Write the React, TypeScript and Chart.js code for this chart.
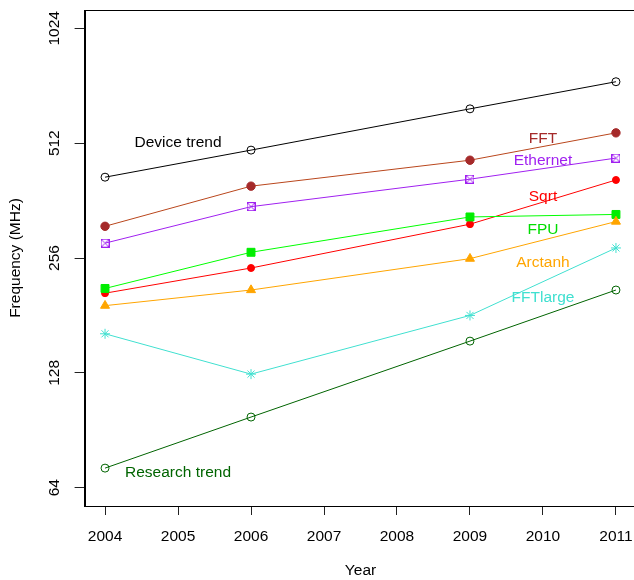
import React, { useEffect, useRef } from "react";
import { Chart, registerables } from "chart.js";

Chart.register(...registerables);

// ---- data ----
const years = [2004, 2006, 2009, 2011];
const xTicks = [2004, 2005, 2006, 2007, 2008, 2009, 2010, 2011];
const yTicks = [64, 128, 256, 512, 1024];

const deviceTrend = [417, 491, 630, 742];
const fft = [310, 395, 462, 545];
const ethernet = [280, 349, 412, 468];
const sqrt = [207, 241, 314, 410];
const fpu = [213, 265, 328, 333];
const arctanh = [192, 211, 255, 319];
const fftLarge = [162, 127, 181, 272];
const researchTrend = [72, 98, 155, 211];

const labelTexts = ["Device trend", "FFT", "Ethernet", "Sqrt", "FPU", "Arctanh", "FFTlarge", "Research trend"];
const labelX = [2005, 2010, 2010, 2010, 2010, 2010, 2010, 2005];
const labelY = [512, 527, 460, 371, 303, 249, 201, 70];

// ---- styles ----
const labelColors = ["#000000", "#A52A2A", "#A020F0", "#FF0000", "#00DD00", "#FFA500", "#40E0D0", "#006400"];
const FONT = '"Liberation Sans", Arial, Helvetica, sans-serif';
const FS = 15.5;

const xMin = 2004 - 0.04 * 7;
const xMax = 2011 + 0.04 * 7;
const yMin = 64 / Math.pow(2, 0.16);
const yMax = 1024 * Math.pow(2, 0.16);

function boxCross(color: string) {
  const c = document.createElement("canvas");
  c.width = 9;
  c.height = 9;
  const ctx = c.getContext("2d")!;
  ctx.strokeStyle = color;
  ctx.lineWidth = 1;
  ctx.strokeRect(0.5, 0.5, 8, 8);
  ctx.beginPath();
  ctx.moveTo(0.5, 0.5);
  ctx.lineTo(8.5, 8.5);
  ctx.moveTo(8.5, 0.5);
  ctx.lineTo(0.5, 8.5);
  ctx.stroke();
  return c;
}

const overlay = {
  id: "rOverlay",
  afterDatasetsDraw(chart: any) {
    const { ctx, scales } = chart;
    ctx.save();
    ctx.font = `${FS}px ${FONT}`;
    ctx.textAlign = "center";
    ctx.textBaseline = "middle";
    labelTexts.forEach((t, i) => {
      ctx.fillStyle = labelColors[i];
      ctx.fillText(t, scales.x.getPixelForValue(labelX[i]), scales.y.getPixelForValue(labelY[i]));
    });
    ctx.restore();
  },
  afterDraw(chart: any) {
    const { ctx, chartArea, scales } = chart;
    ctx.save();
    ctx.strokeStyle = "#000";
    ctx.lineWidth = 1;
    const l = Math.round(chartArea.left) + 0.5;
    const t = Math.round(chartArea.top) + 0.5;
    const r = Math.round(chartArea.right) + 0.5;
    const b = Math.round(chartArea.bottom) + 0.5;
    ctx.strokeRect(l, t, r - l, b - t);
    ctx.fillStyle = "#000";
    ctx.font = `${FS}px ${FONT}`;
    ctx.textAlign = "center";
    ctx.textBaseline = "middle";
    yTicks.forEach((v) => {
      const y = scales.y.getPixelForValue(v);
      ctx.save();
      ctx.translate(55, y);
      ctx.rotate(-Math.PI / 2);
      ctx.fillText(String(v), 0, 0);
      ctx.restore();
    });
    ctx.restore();
  },
};

export default function App() {
  const ref = useRef<HTMLCanvasElement>(null);
  useEffect(() => {
    if (!ref.current) return;
    const mk = (
      label: string,
      values: number[],
      lineColor: string,
      pointColor: string,
      style: any,
      radius: number,
      filled: boolean,
      idx: number
    ) => ({
      label,
      data: years.map((y, i) => ({ x: y, y: values[i] })),
      borderColor: lineColor,
      borderWidth: 1,
      backgroundColor: lineColor,
      pointStyle: style,
      pointRadius: radius,
      pointBorderWidth: 1,
      pointBorderColor: pointColor,
      pointBackgroundColor: filled ? pointColor : "rgba(0,0,0,0)",
      tension: 0,
      fill: false,
      order: -idx,
    });
    const datasets = [
      mk("Device trend", deviceTrend, "#000000", "#000000", "circle", 4, false, 0),
      mk("FFT", fft, "#B9461C", "#A52A2A", "circle", 4.2, true, 1),
      mk("Ethernet", ethernet, "#A020F0", "#A020F0", boxCross("#A020F0"), 4.5, false, 2),
      mk("Sqrt", sqrt, "#FF0000", "#FF0000", "circle", 3.5, true, 3),
      mk("FPU", fpu, "#00FF00", "#00EE00", "rect", 5.6, true, 4),
      mk("Arctanh", arctanh, "#FFA500", "#FFA500", "triangle", 5.2, true, 5),
      mk("FFTlarge", fftLarge, "#40E0D0", "#40E0D0", "star", 5, false, 6),
      mk("Research trend", researchTrend, "#006400", "#006400", "circle", 4, false, 7),
    ];
    const font = { family: FONT, size: FS };
    const chart = new Chart(ref.current, {
      type: "line",
      data: { datasets: datasets as any },
      plugins: [overlay],
      options: {
        animation: false,
        responsive: false,
        devicePixelRatio: 1,
        layout: { autoPadding: false, padding: { left: 0, right: 640 - 636.4, top: 10, bottom: 0 } },
        plugins: { legend: { display: false }, tooltip: { enabled: false } },
        scales: {
          x: {
            type: "linear",
            position: "bottom",
            min: xMin,
            max: xMax,
            afterBuildTicks: (s: any) => {
              s.ticks = xTicks.map((v) => ({ value: v }));
            },
            afterFit: (s: any) => {
              s.height = 74;
              s.paddingLeft = 0;
              s.paddingRight = 0;
            },
            grid: { drawOnChartArea: false, drawTicks: true, tickLength: 9, color: "#222", tickColor: "#222" },
            border: { display: true, color: "#000" },
            ticks: {
              color: "#000",
              font,
              padding: 12,
              maxRotation: 0,
              autoSkip: false,
              callback: (v: any) => String(v),
            },
            title: { display: true, text: "Year", color: "#000", font, padding: 0 },
          },
          y: {
            type: "logarithmic",
            position: "left",
            min: yMin,
            max: yMax,
            afterBuildTicks: (s: any) => {
              s.ticks = yTicks.map((v) => ({ value: v }));
            },
            afterFit: (s: any) => {
              s.width = 84.6;
              s.paddingTop = 0;
              s.paddingBottom = 0;
            },
            grid: { drawOnChartArea: false, drawTicks: true, tickLength: 10, color: "#222", tickColor: "#222" },
            border: { display: true, color: "#000" },
            ticks: { display: false },
            title: {
              display: true,
              text: "Frequency (MHz)",
              color: "#000",
              font,
              padding: { top: 6, bottom: 0 },
            },
          },
        },
      } as any,
    });
    return () => chart.destroy();
  }, []);
  return (
    <div style={{ position: "absolute", left: 0, top: 0, width: 634, height: 580, overflow: "hidden", background: "#fff" }}>
      <canvas ref={ref} width={640} height={580} style={{ width: 640, height: 580, display: "block" }} />
    </div>
  );
}
